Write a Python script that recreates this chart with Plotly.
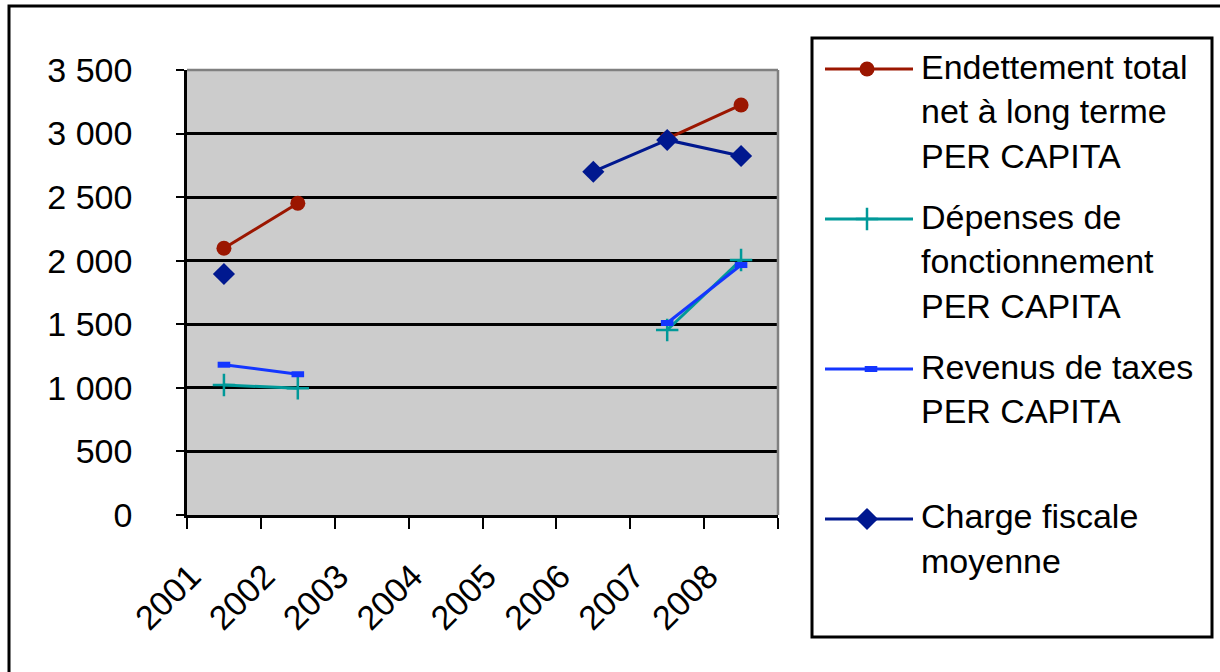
import plotly.graph_objects as go

# ---- data ----
years = ["2001", "2002", "2003", "2004", "2005", "2006", "2007", "2008"]
endettement = [2098, 2452, None, None, None, None, 2960, 3225]
depenses = [1022, 997, None, None, None, None, 1455, 2006]
revenus = [1182, 1107, None, None, None, None, 1510, 1966]
charge = [1895, None, None, None, None, 2700, 2950, 2824]
y_tickvals = [0, 500, 1000, 1500, 2000, 2500, 3000, 3500]
y_ticktext = ["0", "500", "1 000", "1 500", "2 000", "2 500", "3 000", "3 500"]

names = [
    ["Endettement total", "net à long terme", "PER CAPITA"],
    ["Dépenses de", "fonctionnement", "PER CAPITA"],
    ["Revenus de taxes", "PER CAPITA"],
    ["Charge fiscale", "moyenne"],
]

W, H = 1220, 672
FONT = "Liberation Sans, Arial, sans-serif"

RED = "#9B1600"
TEAL = "#009999"
BLUE = "#1436FF"
NAVY = "#00188F"

# plot area in pixels
PX0, PX1, PY0, PY1 = 187, 778, 70, 515

styles = [
    dict(color=RED, marker=dict(symbol="circle", size=15, color=RED)),
    dict(color=TEAL, marker=dict(symbol="cross-thin", size=16, color=TEAL,
                                 line=dict(color=TEAL, width=2.5))),
    dict(color=BLUE, marker=dict(symbol="line-ew", size=9, color=BLUE,
                                 line=dict(color=BLUE, width=6))),
    dict(color=NAVY, marker=dict(symbol="diamond", size=17, color=NAVY)),
]
series = [endettement, depenses, revenus, charge]

fig = go.Figure()
for vals, st, nm in zip(series, styles, names):
    fig.add_trace(go.Scatter(
        x=years, y=vals, mode="lines+markers", name=" ".join(nm),
        line=dict(color=st["color"], width=3), marker=st["marker"],
        showlegend=False, xaxis="x", yaxis="y"))

# ---- manual legend (symbols on a pixel-mapped helper axis) ----
LX0, LX1, LY0, LY1 = 812, 1212, 38, 637
sym_y = [69, 219, 369, 519]
sym_mx = [867, 867, 871, 867]
for st, yy, mx in zip(styles, sym_y, sym_mx):
    fig.add_trace(go.Scatter(x=[825, 913], y=[yy, yy], mode="lines",
                             line=dict(color=st["color"], width=3),
                             showlegend=False, hoverinfo="skip",
                             xaxis="x2", yaxis="y2"))
    fig.add_trace(go.Scatter(x=[mx], y=[yy], mode="markers", marker=st["marker"],
                             showlegend=False, hoverinfo="skip",
                             xaxis="x2", yaxis="y2"))

annotations = []
first_line = [66.5, 216.5, 366.5, 516]
for nm, y0 in zip(names, first_line):
    for i, line in enumerate(nm):
        py = y0 + i * 44.5
        annotations.append(dict(
            xref="paper", yref="paper", x=919 / W, y=1 - py / H,
            xanchor="left", yanchor="middle", text=line, showarrow=False,
            font=dict(family=FONT, size=34, color="black")))

shapes = [
    # plot area fill
    dict(type="rect", xref="x domain", yref="y domain", x0=0, x1=1, y0=0, y1=1,
         fillcolor="#CCCCCC", line=dict(width=0), layer="below"),
    # top & right border of plot area (gray)
    dict(type="line", xref="x domain", yref="y domain", x0=0, x1=1, y0=1, y1=1,
         line=dict(color="#808080", width=2.5), layer="above"),
    dict(type="line", xref="x domain", yref="y domain", x0=1, x1=1, y0=0, y1=1,
         line=dict(color="#808080", width=2.5), layer="above"),
    # outer chart border
    dict(type="rect", xref="paper", yref="paper", x0=9 / W, x1=1.05,
         y0=-0.05, y1=1 - 6 / H, line=dict(color="black", width=3),
         fillcolor="rgba(0,0,0,0)", layer="above"),
    # legend box
    dict(type="rect", xref="paper", yref="paper", x0=LX0 / W, x1=LX1 / W,
         y0=1 - LY1 / H, y1=1 - LY0 / H, line=dict(color="black", width=3),
         fillcolor="rgba(0,0,0,0)", layer="above"),
]

fig.update_layout(
    width=W, height=H,
    margin=dict(l=0, r=0, t=0, b=0, pad=0, autoexpand=False),
    paper_bgcolor="white", plot_bgcolor="rgba(0,0,0,0)",
    font=dict(family=FONT, size=34, color="black"),
    showlegend=False,
    xaxis=dict(
        domain=[PX0 / W, PX1 / W], anchor="y", automargin=False,
        type="category", categoryorder="array", categoryarray=years,
        tickson="boundaries", ticks="outside", ticklen=11, tickwidth=2,
        tickcolor="black", showgrid=False, zeroline=False,
        showline=True, linecolor="black", linewidth=2.5,
        tickangle=-45, tickfont=dict(family=FONT, size=34, color="black"),
        ticklabelstandoff=25, ticklabelshift=-33,
        range=[-0.5, 7.5], fixedrange=True),
    yaxis=dict(
        domain=[1 - PY1 / H, 1 - PY0 / H], anchor="x", automargin=False,
        range=[0, 3500], tickvals=y_tickvals, ticktext=y_ticktext,
        ticks="outside", ticklen=8, tickwidth=2, tickcolor="black",
        showgrid=True, gridcolor="black", gridwidth=2.5,
        zeroline=False, showline=True, linecolor="black", linewidth=2.5,
        tickfont=dict(family=FONT, size=34, color="black"),
        ticklabelstandoff=37, fixedrange=True),
    xaxis2=dict(domain=[LX0 / W, LX1 / W], anchor="y2", range=[LX0, LX1],
                visible=False, showgrid=False, zeroline=False, fixedrange=True,
                automargin=False),
    yaxis2=dict(domain=[1 - LY1 / H, 1 - LY0 / H], anchor="x2", range=[LY1, LY0],
                visible=False, showgrid=False, zeroline=False, fixedrange=True,
                automargin=False),
    shapes=shapes,
    annotations=annotations,
)

fig.write_html("out.html",
               config={"displayModeBar": False},
               post_script="document.body.style.margin='0';"
                           "document.body.style.overflow='hidden';")
